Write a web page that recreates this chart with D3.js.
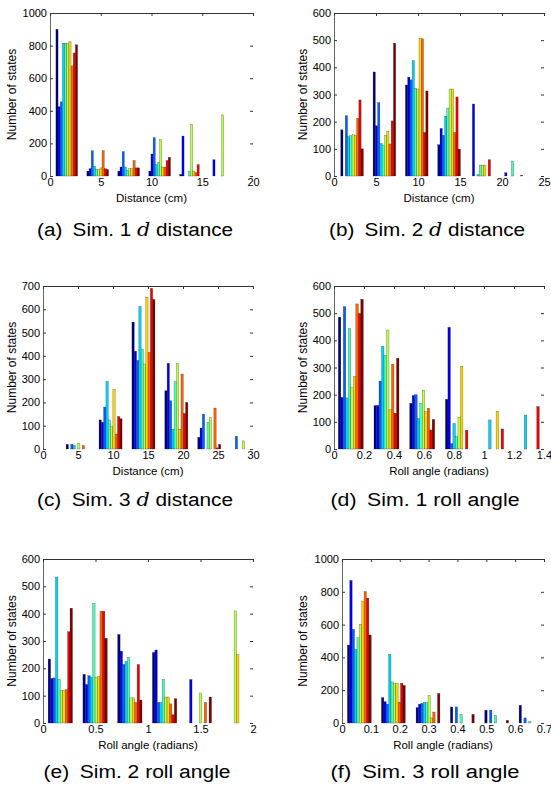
<!DOCTYPE html>
<html>
<head>
<meta charset="utf-8">
<script src="https://cdn.jsdelivr.net/npm/d3@7"></script>
<style>
body { margin: 0; background: #fff; }
text { font-family: "Liberation Sans", Arial, sans-serif; fill: #000; }
</style>
</head>
<body>
<div id="chart"></div>
<script>
'use strict';

var width = 551;
var height = 791;

// bin centres and counts per bin (one column per run, 10 runs)
var aCenters = [1.65, 4.7, 7.75, 10.8, 13.85, 16.9];
var aCounts = [
    [900, 425, 455, 815, 815, 812, 825, 675, 755, 805],
    [30, 45, 155, 60, 40, 40, 50, 155, 45, 40],
    [30, 55, 150, 55, 35, 45, 45, 95, 50, 50],
    [30, 135, 235, 70, 85, 225, 55, 55, 95, 115],
    [10, 245, 0, 0, 30, 315, 30, 20, 70, 0],
    [0, 100, 0, 0, 0, 375, 0, 0, 0, 0]
];
var bCenters = [2.15, 6.0, 9.85, 13.7, 17.55, 21.4];
var bCounts = [
    [170, 0, 222, 145, 148, 152, 150, 212, 280, 100],
    [383, 185, 270, 120, 112, 150, 165, 118, 203, 489],
    [335, 364, 354, 425, 323, 320, 507, 505, 160, 313],
    [115, 175, 150, 220, 250, 320, 320, 160, 291, 99],
    [0, 265, 0, 5, 40, 40, 40, 0, 60, 0],
    [0, 12, 0, 0, 55, 0, 0, 0, 3, 0]
];
var cCenters = [4.95, 9.65, 14.35, 19.05, 23.75, 28.45];
var cCounts = [
    [20, 0, 20, 15, 0, 25, 0, 15, 0, 0],
    [125, 115, 180, 290, 125, 96, 256, 64, 140, 130],
    [545, 420, 380, 612, 428, 365, 652, 415, 690, 642],
    [250, 368, 207, 85, 289, 368, 85, 322, 153, 200],
    [50, 90, 150, 0, 115, 135, 0, 176, 5, 20],
    [0, 0, 55, 0, 0, 35, 0, 0, 0, 0]
];
var dCenters = [0.112, 0.35, 0.588, 0.826, 1.064, 1.302];
var dCounts = [
    [485, 190, 524, 188, 444, 226, 267, 534, 499, 551],
    [160, 160, 250, 378, 345, 438, 145, 312, 132, 334],
    [168, 197, 200, 112, 168, 217, 137, 150, 70, 109],
    [183, 448, 20, 94, 45, 117, 305, 0, 69, 0],
    [0, 0, 0, 107, 0, 0, 139, 0, 74, 0],
    [0, 0, 0, 125, 0, 0, 0, 0, 156, 0]
];
var eCenters = [0.165, 0.496, 0.827, 1.158, 1.489, 1.82];
var eCounts = [
    [234, 163, 165, 534, 160, 118, 120, 122, 334, 420],
    [178, 141, 173, 168, 438, 168, 170, 409, 409, 310],
    [324, 263, 214, 225, 239, 92, 92, 75, 214, 84],
    [258, 267, 75, 75, 160, 95, 95, 70, 30, 89],
    [0, 159, 0, 0, 0, 110, 0, 75, 0, 95],
    [0, 0, 0, 0, 0, 410, 250, 0, 0, 0]
];
var fCenters = [0.06, 0.178, 0.298, 0.417, 0.536, 0.655];
var fCounts = [
    [475, 869, 571, 449, 520, 602, 741, 802, 761, 537],
    [155, 130, 115, 418, 251, 240, 243, 127, 243, 229],
    [94, 115, 120, 125, 125, 169, 31, 67, 0, 180],
    [98, 0, 98, 0, 53, 0, 0, 0, 0, 53],
    [78, 0, 78, 0, 47, 0, 0, 0, 0, 16],
    [108, 0, 31, 0, 8, 0, 0, 0, 0, 0]
];

// tick values
var distTicks20 = [0, 5, 10, 15, 20];
var distTicks25 = [0, 5, 10, 15, 20, 25];
var distTicks30 = [0, 5, 10, 15, 20, 25, 30];
var rollTicks14 = [0, 0.2, 0.4, 0.6, 0.8, 1, 1.2, 1.4];
var rollTicks2 = [0, 0.5, 1, 1.5, 2];
var rollTicks07 = [0, 0.1, 0.2, 0.3, 0.4, 0.5, 0.6, 0.7];
var countTicks1000 = [0, 200, 400, 600, 800, 1000];
var countTicks600 = [0, 100, 200, 300, 400, 500, 600];
var countTicks700 = [0, 100, 200, 300, 400, 500, 600, 700];

var captionTags = ['(a)', '(b)', '(c)', '(d)', '(e)', '(f)'];
var captionSims = ['Sim. 1', 'Sim. 2', 'Sim. 3', 'Sim. 1', 'Sim. 2', 'Sim. 3'];

// matlab style jet colormap
function jet(t) {
    var c = function(v) { return Math.max(0, Math.min(1, v)); };
    var r = c(1.5 - Math.abs(4 * t - 3)),
        g = c(1.5 - Math.abs(4 * t - 2)),
        b = c(1.5 - Math.abs(4 * t - 1));
    return d3.rgb(r * 255, g * 255, b * 255).toString();
}

var panels = [
    {centers: aCenters, counts: aCounts, xTicks: distTicks20, yTicks: countTicks1000, xLabel: 'Distance (cm)',
     left: 50, right: 253, top: 13, bottom: 176, ylabX: 12, cx: 135, cy: 236, cw: 196, d: true},
    {centers: bCenters, counts: bCounts, xTicks: distTicks25, yTicks: countTicks600, xLabel: 'Distance (cm)',
     left: 334, right: 544, top: 13, bottom: 176, ylabX: 303, cx: 427, cy: 236, cw: 196, d: true},
    {centers: cCenters, counts: cCounts, xTicks: distTicks30, yTicks: countTicks700, xLabel: 'Distance (cm)',
     left: 43, right: 253, top: 286, bottom: 449, ylabX: 12, cx: 135, cy: 506, cw: 196, d: true},
    {centers: dCenters, counts: dCounts, xTicks: rollTicks14, yTicks: countTicks600, xLabel: 'Roll angle (radians)',
     left: 334, right: 544, top: 286, bottom: 449, ylabX: 303, cx: 425, cy: 506, cw: 189, d: false},
    {centers: eCenters, counts: eCounts, xTicks: rollTicks2, yTicks: countTicks600, xLabel: 'Roll angle (radians)',
     left: 43, right: 253, top: 559, bottom: 723, ylabX: 12, cx: 137, cy: 778, cw: 187, d: false},
    {centers: fCenters, counts: fCounts, xTicks: rollTicks07, yTicks: countTicks1000, xLabel: 'Roll angle (radians)',
     left: 342, right: 544, top: 559, bottom: 723, ylabX: 303, cx: 425, cy: 778, cw: 189, d: false}
];

var svg = d3.select('#chart')
    .append('svg')
    .attr('width', width)
    .attr('height', height);

var fmt = d3.format('~g');

panels.forEach(function(p, k) {
    var g = svg.append('g');
    var nRuns = p.counts[0].length;

    var x = d3.scaleLinear()
        .domain([0, d3.max(p.xTicks)])
        .range([p.left, p.right]);
    var y = d3.scaleLinear()
        .domain([0, d3.max(p.yTicks)])
        .range([p.bottom, p.top]);

    var spacing = p.centers[1] - p.centers[0];
    var groupW = spacing * 0.7;
    var barW = groupW / nRuns;

    // flatten bins x runs
    var bars = [];
    p.counts.forEach(function(row, j) {
        row.forEach(function(v, i) {
            if (v > 0) bars.push({c: p.centers[j], i: i, v: v});
        });
    });

    g.selectAll('rect.bar')
        .data(bars)
        .enter()
        .append('rect')
        .attr('class', 'bar')
        .attr('x', function(d) { return x(d.c - groupW / 2 + d.i * barW); })
        .attr('width', function(d) { return x(barW) - x(0); })
        .attr('y', function(d) { return y(d.v); })
        .attr('height', function(d) { return p.bottom - y(d.v); })
        .style('fill', function(d) { return jet(d.i / (nRuns - 1)); })
        .style('stroke', '#000')
        .style('stroke-opacity', 0.55)
        .style('stroke-width', 0.4);

    // left axis
    var yAxis = g.append('g')
        .attr('transform', 'translate(' + p.left + ',0)')
        .call(d3.axisLeft(y).tickValues(p.yTicks).tickFormat(fmt).tickSizeInner(-3).tickSizeOuter(0).tickPadding(3));
    // right ticks only
    var yAxisR = g.append('g')
        .attr('transform', 'translate(' + p.right + ',0)')
        .call(d3.axisRight(y).tickValues(p.yTicks).tickFormat('').tickSizeInner(-3).tickSizeOuter(0));
    yAxisR.select('.domain').remove();

    // bottom axis (labels, no line)
    var xAxis = g.append('g')
        .attr('transform', 'translate(0,' + p.bottom + ')')
        .call(d3.axisBottom(x).tickValues(p.xTicks).tickFormat(fmt).tickSizeInner(-3).tickSizeOuter(0).tickPadding(2));
    xAxis.select('.domain').remove();
    xAxis.selectAll('.tick line').remove();

    // top edge with ticks
    var xAxisT = g.append('g')
        .attr('transform', 'translate(0,' + p.top + ')')
        .call(d3.axisTop(x).tickValues(p.xTicks).tickFormat('').tickSizeInner(-3).tickSizeOuter(0));

    [yAxis, yAxisR, xAxis, xAxisT].forEach(function(a) {
        a.selectAll('text').style('font-size', '11px').style('font-family', '"Liberation Sans", Arial, sans-serif');
        a.selectAll('line').style('stroke', '#333');
    });
    yAxis.select('.domain').style('stroke', '#666');
    xAxisT.select('.domain').style('stroke', '#333').style('stroke-width', 1.2);

    // axis titles
    g.append('text')
        .attr('transform', 'translate(' + p.ylabX + ',' + ((p.top + p.bottom) / 2) + ') rotate(-90)')
        .attr('text-anchor', 'middle')
        .attr('dy', '0.35em')
        .style('font-size', '12px')
        .text('Number of states');

    g.append('text')
        .attr('x', (p.left + p.right) / 2)
        .attr('y', p.bottom + 26)
        .attr('text-anchor', 'middle')
        .style('font-size', '11.5px')
        .text(p.xLabel);

    // caption
    var cap = g.append('text')
        .attr('x', p.cx)
        .attr('y', p.cy)
        .attr('text-anchor', 'middle')
        .attr('textLength', p.cw)
        .attr('lengthAdjust', 'spacingAndGlyphs')
        .style('font-size', '18px');
    cap.append('tspan').text(captionTags[k] + '\u2002' + captionSims[k] + ' ');
    if (p.d) {
        cap.append('tspan')
            .style('font-family', '"DejaVu Serif", "Liberation Serif", serif')
            .style('font-style', 'italic')
            .text('d');
        cap.append('tspan').text(' distance');
    } else {
        cap.append('tspan').text('roll angle');
    }
});
</script>
</body>
</html>
